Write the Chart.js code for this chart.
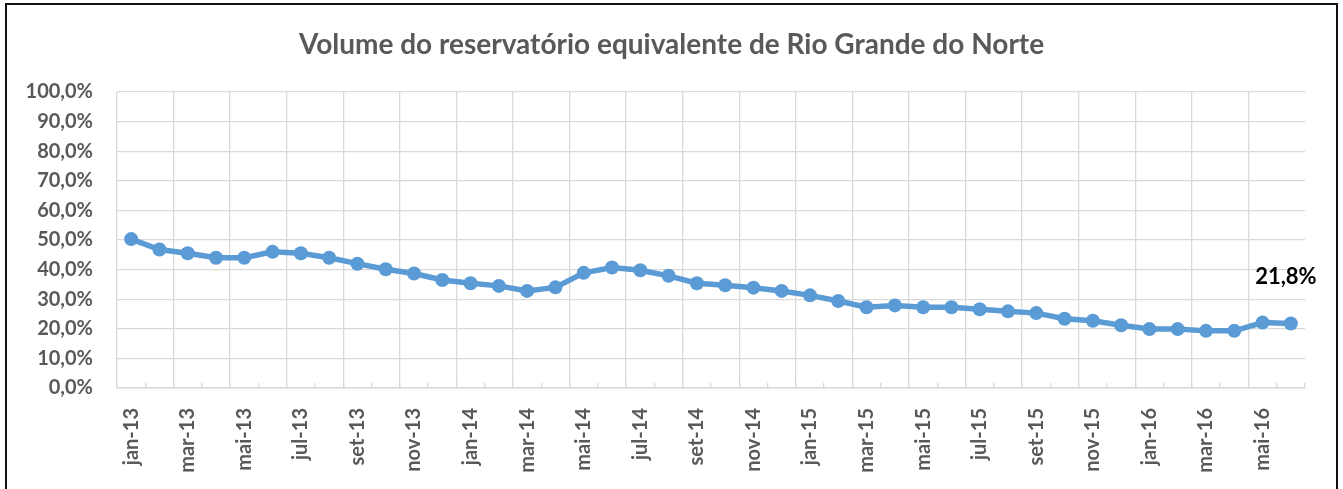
<!DOCTYPE html>
<html>
<head>
<meta charset="utf-8">
<script src="https://cdn.jsdelivr.net/npm/chart.js@4"></script>
<style>
  html, body { margin: 0; padding: 0; background: #fff; }
  #wrap { position: relative; width: 1343px; height: 489px; }
  #frame { position: absolute; left: 5px; top: 3px; width: 1329px; height: 500px; border: 2px solid #111; pointer-events: none; }
</style>
</head>
<body>
<div id="wrap">
  <canvas id="chart" width="1343" height="489"></canvas>
  <div id="frame"></div>
</div>
<script>
// months jan-13 .. jun-16
const months = ['jan','fev','mar','abr','mai','jun','jul','ago','set','out','nov','dez'];
const years = ['13','14','15','16'];
const labels = [];
years.forEach(y => months.forEach(m => labels.push(m + '-' + y)));
labels.length = 42;

const volume = [
  50.3, 46.8, 45.5, 44.0, 44.0, 46.0, 45.5, 44.0, 42.0, 40.1, 38.7, 36.5,
  35.4, 34.5, 32.8, 34.0, 38.9, 40.7, 39.8, 37.9, 35.4, 34.7, 33.9, 32.8,
  31.3, 29.4, 27.3, 27.9, 27.3, 27.3, 26.6, 25.9, 25.3, 23.4, 22.7, 21.2,
  19.9, 19.9, 19.3, 19.3, 22.1, 21.8
];

const yTicks = [0, 10, 20, 30, 40, 50, 60, 70, 80, 90, 100];

const chartTitle = 'Volume do reservatório equivalente de Rio Grande do Norte';

const gray = '#595959';
const gridColor = '#d9d9d9';
const fontFamily = 'Lato, "Open Sans", sans-serif';

const fmt = v => v.toFixed(1).replace('.', ',') + '%';

// title centred on the whole frame, plus the label on the last point
const extras = {
  id: 'extras',
  afterDraw(chart) {
    const ctx = chart.ctx;
    ctx.save();
    ctx.font = 'bold 28px ' + fontFamily;
    ctx.fillStyle = gray;
    ctx.textAlign = 'center';
    ctx.textBaseline = 'middle';
    ctx.fillText(chartTitle, chart.width / 2, 45);

    const meta = chart.getDatasetMeta(0);
    const i = volume.length - 1;
    const pt = meta.data[i];
    ctx.font = 'bold 22px ' + fontFamily;
    ctx.fillStyle = '#000';
    ctx.fillText(fmt(volume[i]), pt.x - 5, pt.y - 47);
    ctx.restore();
  }
};

new Chart(document.getElementById('chart'), {
  type: 'line',
  data: {
    labels: labels,
    datasets: [{
      data: volume,
      borderColor: '#5b9bd5',
      backgroundColor: '#5b9bd5',
      borderWidth: 5.5,
      pointRadius: 7,
      pointHoverRadius: 7,
      pointBorderWidth: 0,
      tension: 0
    }]
  },
  options: {
    responsive: false,
    animation: false,
    layout: { padding: { left: 10, right: 38, top: 92, bottom: 0 } },
    plugins: {
      legend: { display: false },
      tooltip: { enabled: false },
      title: { display: false }
    },
    scales: {
      x: {
        offset: true,
        grid: {
          offset: true,
          color: c => (c.index % 2 === 0 ? gridColor : 'rgba(0,0,0,0)'),
          tickColor: gridColor,
          tickLength: -5,
          lineWidth: 1.3
        },
        border: { color: gridColor, width: 1.5 },
        ticks: {
          autoSkip: false,
          minRotation: 90,
          maxRotation: 90,
          padding: 25,
          color: gray,
          font: { family: fontFamily, size: 20, weight: 'bold' },
          callback: (v, i) => (i % 2 === 0 ? labels[i] : '')
        },
        afterFit: s => { s.height = 101; }
      },
      y: {
        min: 0,
        max: 100,
        afterBuildTicks: s => { s.ticks = yTicks.map(v => ({ value: v })); },
        grid: { color: gridColor, lineWidth: 1.3, drawTicks: false },
        border: { display: false },
        ticks: {
          padding: 24,
          color: gray,
          font: { family: fontFamily, size: 20, weight: 'bold' },
          callback: v => fmt(v)
        },
        afterFit: s => { s.width = 107; }
      }
    }
  },
  plugins: [extras]
});
</script>
</body>
</html>
